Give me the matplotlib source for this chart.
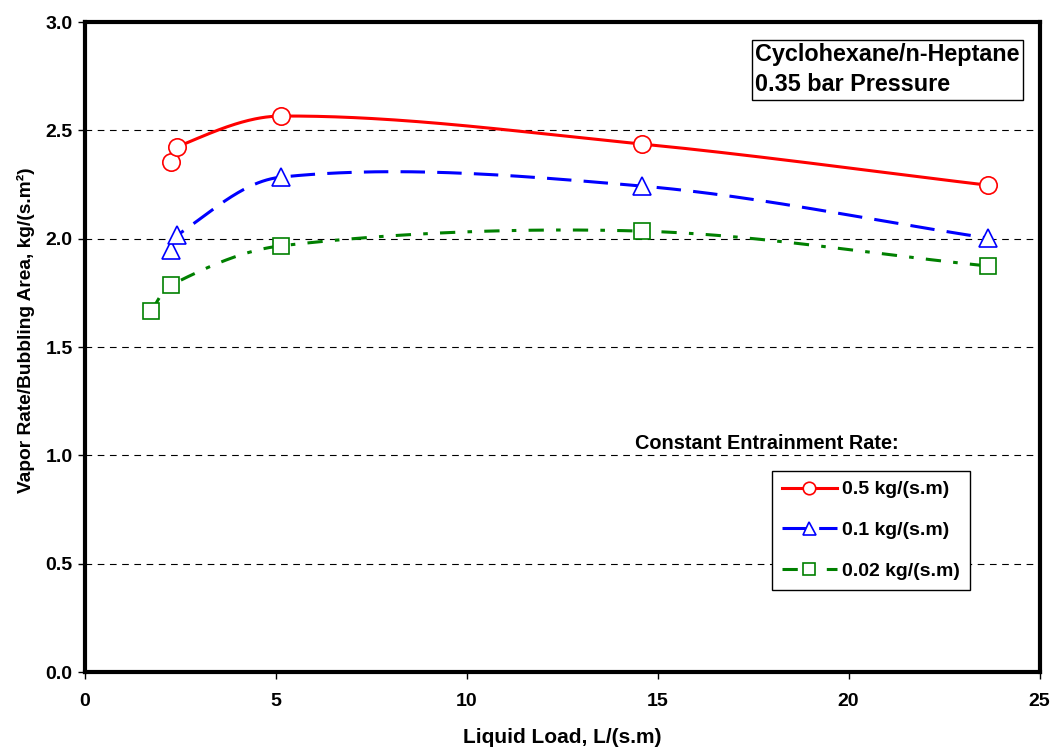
import numpy as np
import matplotlib.pyplot as plt
from matplotlib.lines import Line2D

plt.rcParams['font.family'] = ['Liberation Sans', 'DejaVu Sans']
plt.rcParams['font.weight'] = 'bold'

# data
x_05 = [2.24, 2.42, 5.13, 14.58, 23.64]
y_05 = [2.355, 2.424, 2.566, 2.437, 2.247]
x_01 = [2.24, 2.42, 5.13, 14.58, 23.64]
y_01 = [1.947, 2.017, 2.284, 2.243, 2.003]
x_002 = [1.73, 2.24, 5.13, 14.58, 23.64]
y_002 = [1.666, 1.785, 1.967, 2.035, 1.874]

labels = ['0.5 kg/(s.m)', '0.1 kg/(s.m)', '0.02 kg/(s.m)']


def smooth(ax, xs, ys, n=80):
    # excel-like smoothed line, bezier built in screen space
    tr = ax.transData
    p = tr.transform(np.column_stack([xs, ys]))
    ext = np.vstack([p[0], p, p[-1]])
    d = np.hypot(*np.diff(ext, axis=0).T)
    t = np.linspace(0, 1, n)[:, None]
    out = []
    for i in range(len(p) - 1):
        p0, p1, p2, p3 = ext[i], ext[i + 1], ext[i + 2], ext[i + 3]
        d01, d12, d23 = d[i], d[i + 1], d[i + 2]
        c1 = p1 + (p2 - p0) * d12 / (d01 + d12) / 3
        c2 = p2 - (p3 - p1) * d12 / (d12 + d23) / 3
        seg = (1 - t)**3 * p1 + 3 * (1 - t)**2 * t * c1 + 3 * (1 - t) * t**2 * c2 + t**3 * p2
        out.append(seg if i == 0 else seg[1:])
    return tr.inverted().transform(np.vstack(out))


fig = plt.figure(figsize=(10.5, 7.49), dpi=100)
ax = fig.add_axes([0.081, 0.1028, 0.909, 0.8678])
ax.set_xlim(0, 25)
ax.set_ylim(0, 3.0)

series = [
    (x_05, y_05, 'red', '-', 'o', 12.5),
    (x_01, y_01, 'blue', (0, (8, 4)), '^', 13),
    (x_002, y_002, 'green', (0, (5, 4, 1.5, 4)), 's', 12),
]

handles = []
for (xs, ys, c, ls, m, ms), lab in zip(series, labels):
    curve = smooth(ax, xs, ys)
    ax.plot(curve[:, 0], curve[:, 1], color=c, lw=2.2, linestyle=ls, zorder=3)
    ax.plot(xs, ys, linestyle='none', marker=m, ms=ms, mfc='white', mec=c, mew=1.2, zorder=4)
    handles.append(Line2D([], [], color=c, lw=2.2, linestyle=ls, marker=m, ms=ms * 0.72,
                          mfc='white', mec=c, mew=1.2))

ax.set_xticks(np.arange(0, 26, 5))
ax.set_yticks(np.arange(0, 3.01, 0.5))
ax.set_yticklabels([f'{v:.1f}' for v in np.arange(0, 3.01, 0.5)])
ax.yaxis.grid(True, color='black', linestyle=(0, (6, 5)), lw=0.8)
ax.set_axisbelow(True)

for s in ax.spines.values():
    s.set_linewidth(3)
ax.tick_params(axis='both', direction='out', length=5, width=1, labelsize=14)
ax.tick_params(axis='x', pad=10)
ax.tick_params(axis='y', pad=4)
ax.tick_params(top=False, right=False)

ax.set_xlabel('Liquid Load, L/(s.m)', fontsize=15, fontweight='bold', labelpad=13)
ax.set_ylabel('Vapor Rate/Bubbling Area, kg/(s.m²)', fontsize=13.8, fontweight='bold')
ax.yaxis.set_label_coords(-0.0524, 0.526)

ax.text(0.702, 0.967, 'Cyclohexane/n-Heptane\n0.35 bar Pressure', transform=ax.transAxes,
        ha='left', va='top', fontsize=16.8, fontweight='bold', linespacing=1.38,
        bbox=dict(boxstyle='square,pad=0.15', fc='white', ec='black', lw=1))

ax.text(0.714, 0.352, 'Constant Entrainment Rate:', transform=ax.transAxes,
        ha='center', va='center', fontsize=14.3, fontweight='bold',
        bbox=dict(fc='white', ec='none', pad=1))

leg = ax.legend(handles, labels, loc='upper left', bbox_to_anchor=(772 / 1050, 1 - 471 / 749),
                bbox_transform=fig.transFigure, borderaxespad=0, fontsize=14,
                handlelength=2.85, handletextpad=0.25, labelspacing=1.2, borderpad=0.5,
                fancybox=False, framealpha=1, edgecolor='black')
leg.get_frame().set_linewidth(1)

fig.savefig('out.png', dpi=100)
